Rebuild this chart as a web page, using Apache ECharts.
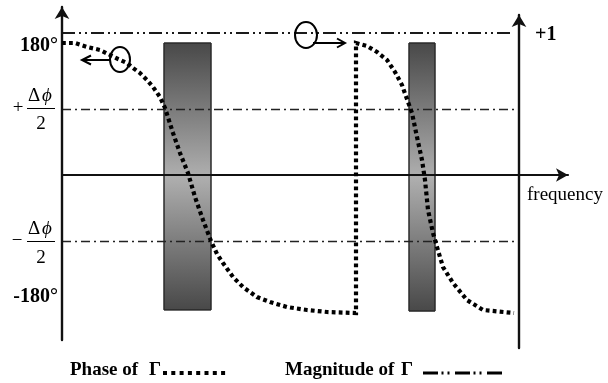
<!DOCTYPE html>
<html>
<head>
<meta charset="utf-8">
<script src="https://cdn.jsdelivr.net/npm/echarts@6/dist/echarts.min.js"></script>
<style>
  html, body { margin: 0; padding: 0; background: #fff; }
  #chart { width: 608px; height: 383px; }
</style>
</head>
<body>
<div id="chart"></div>
<script>
// Phase of the reflection coefficient Γ (degrees) versus frequency (arbitrary units)
const phaseFreq = [0, 2.6, 5.0, 7.6, 11.2, 13.0, 14.2, 15.6, 17.0, 18.2, 19.6, 20.6, 22.2, 23.6,
  25.2, 26.6, 28.2, 29.8, 31.0, 32.2, 34.2, 36.2, 39.0, 41.6, 45.0, 49.0, 53.0, 58.8,
  58.8, 59.0, 61.0, 63.0, 65.0, 66.6, 68.0, 69.2, 70.0, 71.0, 72.0, 72.6, 73.2, 74.2,
  75.0, 76.2, 78.2, 81.0, 84.2, 90.4];
const phaseDeg = [180, 180, 174.6, 170.5, 158.2, 152.8, 145.9, 139.1, 129.6, 120.0, 106.4, 91.4, 57.3, 30.0,
  2.7, -30.0, -61.4, -90.0, -107.7, -120.0, -139.1, -152.8, -166.4, -173.2, -180.0, -184.1, -186.8, -188.2,
  180, 180, 175.9, 167.8, 156.8, 140.5, 122.7, 99.6, 84.6, 51.8, 20.5, -6.8, -47.7, -79.1,
  -98.2, -125.5, -147.3, -170.5, -184.1, -188.2];

// Magnitude of Γ (unit circle: |Γ| = 1 everywhere)
const magFreq = [0, 90];
const magValue = [1, 1];

// Shaded frequency bands
const bandStart = [20.4, 69.4];
const bandEnd = [29.8, 74.6];
const bandTop = [180, 180];
const bandBottom = [-184, -185.5];

// Reference phase levels at ±Δφ/2
const refLevels = [90, -90];
const refEnd = 91;

const INK = '#111';
const SERIF = '"Liberation Serif", "Times New Roman", serif';

const chart = echarts.init(document.getElementById('chart'), null, { renderer: 'canvas' });

const hiddenAxisParts = {
  axisTick: { show: false },
  axisLabel: { show: false },
  splitLine: { show: false }
};

const option = {
  animation: false,
  backgroundColor: '#fff',
  grid: [
    { left: 62, right: 40, top: 7, bottom: 43 },
    { left: 519, width: 1, top: 15, bottom: 35 }
  ],
  xAxis: [
    Object.assign({
      gridIndex: 0, type: 'value', min: 0, max: 101.2, z: 4,
      axisLine: {
        show: true, onZero: true, symbol: ['none', 'arrow'], symbolSize: [10, 12],
        lineStyle: { color: INK, width: 2.2 }
      }
    }, hiddenAxisParts),
    { gridIndex: 1, type: 'value', min: 0, max: 1, show: false }
  ],
  yAxis: [
    Object.assign({
      gridIndex: 0, type: 'value', min: -225, max: 229.1, z: 4,
      axisLine: {
        show: true, symbol: ['none', 'arrow'], symbolSize: [11, 12],
        lineStyle: { color: INK, width: 2.4 }
      }
    }, hiddenAxisParts),
    { gridIndex: 0, type: 'value', min: -1.162, max: 1.1831, show: false },
    Object.assign({
      gridIndex: 1, type: 'value', min: -1.218, max: 1.1268, z: 4,
      axisLine: {
        show: true, onZero: false, symbol: ['none', 'arrow'], symbolSize: [11, 12],
        lineStyle: { color: INK, width: 2.4 }
      }
    }, hiddenAxisParts)
  ],
  series: [
    {
      // shaded bands
      type: 'custom',
      xAxisIndex: 0, yAxisIndex: 0, z: 1, silent: true,
      data: bandStart.map((s, i) => [s, bandEnd[i], bandTop[i], bandBottom[i]]),
      renderItem: (params, api) => {
        const p0 = api.coord([api.value(0), api.value(2)]);
        const p1 = api.coord([api.value(1), api.value(3)]);
        return {
          type: 'rect',
          shape: { x: p0[0], y: p0[1], width: p1[0] - p0[0], height: p1[1] - p0[1] },
          style: {
            fill: new echarts.graphic.LinearGradient(0, 0, 0, 1, [
              { offset: 0, color: '#484848' },
              { offset: 0.5, color: '#afafaf' },
              { offset: 1, color: '#484848' }
            ]),
            stroke: '#2a2a2a',
            lineWidth: 1
          }
        };
      }
    },
    {
      name: 'Magnitude of Γ',
      type: 'line',
      xAxisIndex: 0, yAxisIndex: 1, z: 3, silent: true,
      showSymbol: false,
      data: magFreq.map((f, i) => [f, magValue[i]]),
      lineStyle: { color: '#1a1a1a', width: 1.8, type: [13, 4, 2, 4, 2, 4] }
    },
    {
      name: 'Phase of Γ',
      type: 'line',
      xAxisIndex: 0, yAxisIndex: 0, z: 6, silent: true,
      showSymbol: false,
      data: phaseFreq.map((f, i) => [f, phaseDeg[i]]),
      lineStyle: { color: '#000', width: 4.2, type: [3.8, 3.2], cap: 'butt', join: 'miter' },
      markLine: {
        silent: true, symbol: 'none', z: 3,
        label: { show: false },
        lineStyle: { color: '#222', width: 1.3, type: [9, 4, 2, 4] },
        data: refLevels.map(v => [{ coord: [0, v] }, { coord: [refEnd, v] }])
      }
    }
  ]
};

chart.setOption(option);

// Annotations: circles and arrows that tie each curve to its axis
const c1 = chart.convertToPixel({ xAxisIndex: 0, yAxisIndex: 0 }, [11.6, 157.5]);
const c2 = chart.convertToPixel({ xAxisIndex: 0, yAxisIndex: 1 }, [48.8, 1]);

const t = (text, x, y, font, align, vAlign) => ({
  type: 'text', z: 10,
  style: {
    text: text, x: x, y: y, font: font, fill: '#000',
    textAlign: align || 'left', textVerticalAlign: vAlign || 'middle'
  }
});
const ln = (x1, y1, x2, y2, w, dash) => ({
  type: 'line', z: 10,
  shape: { x1: x1, y1: y1, x2: x2, y2: y2 },
  style: { stroke: '#000', lineWidth: w, lineDash: dash || null }
});

const BOLD = 'bold 20px ' + SERIF;
const REG = '19px ' + SERIF;
const ITAL = 'italic 19px ' + SERIF;

chart.setOption({
  graphic: [
    // left axis annotations
    t('180°', 58, 46, BOLD, 'right'),
    t('+', 18, 108, REG, 'center'),
    t('Δ', 34, 96, REG, 'center'),
    t('ϕ', 47, 96, ITAL, 'center'),
    ln(27, 108.5, 55, 108.5, 1),
    t('2', 41, 124, REG, 'center'),
    t('−', 17, 241, REG, 'center'),
    t('Δ', 34, 229, REG, 'center'),
    t('ϕ', 47, 229, ITAL, 'center'),
    ln(27, 241.5, 55, 241.5, 1),
    t('2', 41, 258, REG, 'center'),
    t('-180°', 58, 297, BOLD, 'right'),
    // right axis / frequency axis
    t('+1', 535, 35, BOLD, 'left'),
    t('frequency', 527, 195, '19px ' + SERIF, 'left'),
    // circle + arrow for phase (points to left axis)
    {
      type: 'ellipse', z: 10,
      shape: { cx: c1[0], cy: c1[1], rx: 10, ry: 12.5 },
      style: { fill: 'none', stroke: '#000', lineWidth: 2 }
    },
    ln(c1[0] - 10, c1[1] + 0.5, c1[0] - 37, c1[1] + 0.5, 2),
    {
      type: 'polyline', z: 10,
      shape: { points: [[c1[0] - 29, c1[1] - 4], [c1[0] - 38, c1[1] + 0.5], [c1[0] - 29, c1[1] + 5]] },
      style: { fill: 'none', stroke: '#000', lineWidth: 2 }
    },
    // circle + arrow for magnitude (points to right axis)
    {
      type: 'ellipse', z: 10,
      shape: { cx: c2[0], cy: c2[1] + 2, rx: 11, ry: 13 },
      style: { fill: 'none', stroke: '#000', lineWidth: 2 }
    },
    ln(c2[0] + 7, c2[1] + 10, c2[0] + 38, c2[1] + 10, 2),
    {
      type: 'polyline', z: 10,
      shape: { points: [[c2[0] + 31, c2[1] + 5.5], [c2[0] + 39, c2[1] + 10], [c2[0] + 31, c2[1] + 14.5]] },
      style: { fill: 'none', stroke: '#000', lineWidth: 2 }
    },
    // key
    t('Phase of', 70, 370, 'bold 19px ' + SERIF, 'left'),
    t('Γ', 149, 370, 'bold 19px ' + SERIF, 'left'),
    ln(163, 373, 226, 373, 4, [4, 4.3]),
    t('Magnitude of', 285, 370, 'bold 19px ' + SERIF, 'left'),
    t('Γ', 401, 370, 'bold 19px ' + SERIF, 'left'),
    ln(423, 373, 504, 373, 3, [15, 3.5, 2, 4, 2, 5.5])
  ]
});
</script>
</body>
</html>
